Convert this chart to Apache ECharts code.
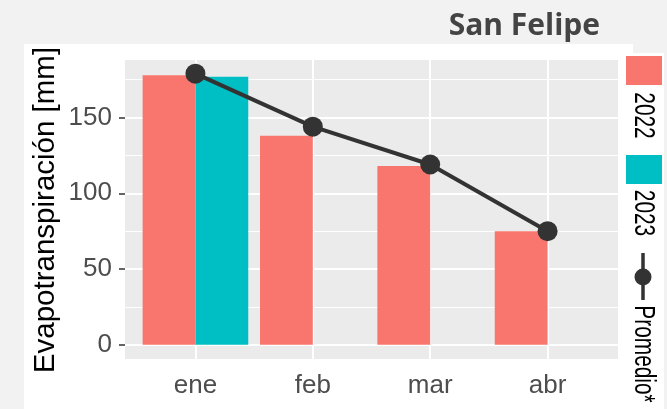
<!DOCTYPE html>
<html>
<head>
<meta charset="utf-8">
<script src="https://cdn.jsdelivr.net/npm/echarts@6/dist/echarts.min.js"></script>
<style>
html,body{margin:0;padding:0;background:#F2F2F2;}
#c{width:667px;height:409px;}
</style>
</head>
<body>
<div id="c"></div>
<script>
const categories = ['ene', 'feb', 'mar', 'abr'];
const values2022 = [178, 138, 118, 75];
const values2023 = [177, null, null, null];
const promedio = [179, 144, 119, 75];
const yTicks = [0, 50, 100, 150];
const yMinorTicks = [25, 75, 125, 175];
const seriesNames = ['2022', '2023', 'Promedio*'];
const titleText = 'San Felipe';
const yTitle = 'Evapotranspiración [mm]';

const c2022 = '#F8766D', c2023 = '#00BFC4', cLine = '#333333';
const sans = '"Liberation Sans", Arial, sans-serif';

// category slots on a continuous axis (ggplot style: 1..n, expanded 0.6 each side)
const xPos = categories.map((_, i) => i + 1);
const pairs = vals => vals.map((v, i) => [xPos[i], v]);

const chart = echarts.init(document.getElementById('c'), null, {renderer: 'canvas'});

const gridLines = [];
yTicks.forEach(v => gridLines.push({yAxis: v, lineStyle: {color: '#FFFFFF', width: 2, type: 'solid'}}));
yMinorTicks.forEach(v => gridLines.push({yAxis: v, lineStyle: {color: '#FFFFFF', width: 1, type: 'solid'}}));
xPos.forEach(v => gridLines.push({xAxis: v, lineStyle: {color: '#FFFFFF', width: 2, type: 'solid'}}));

const option = {
  animation: false,
  backgroundColor: '#F2F2F2',
  grid: {left: 125, right: 49, top: 60, bottom: 50, show: true, backgroundColor: '#EBEBEB', borderWidth: 0, containLabel: false},
  xAxis: {
    type: 'value', min: 0.4, max: 4.6,
    axisLine: {show: false},
    axisTick: {show: true, length: 7, customValues: xPos, lineStyle: {color: '#333333', width: 1.5}},
    axisLabel: {color: '#4D4D4D', fontFamily: sans, fontSize: 26, margin: 14, customValues: xPos,
      formatter: v => categories[Math.round(v) - 1] || ''},
    splitLine: {show: false}
  },
  yAxis: {
    type: 'value', min: -9.4, max: 188,
    axisLine: {show: false},
    axisTick: {show: true, length: 6, customValues: yTicks, lineStyle: {color: '#333333', width: 1.5}},
    axisLabel: {color: '#4D4D4D', fontFamily: sans, fontSize: 26, margin: 13, customValues: yTicks},
    splitLine: {show: false},
    minorSplitLine: {show: false}
  },
  series: [
    {
      type: 'line', name: '_grid', data: [], silent: true, z: 1,
      showSymbol: false, lineStyle: {opacity: 0},
      markLine: {z: 1, silent: true, symbol: ['none', 'none'], label: {show: false}, emphasis: {disabled: true}, animation: false, data: gridLines}
    },
    {type: 'bar', name: seriesNames[0], data: pairs(values2022), itemStyle: {color: c2022}, barGap: '0%', barCategoryGap: '10%', z: 2},
    {type: 'bar', name: seriesNames[1], data: pairs(values2023), itemStyle: {color: c2023}, barGap: '0%', barCategoryGap: '10%', z: 2},
    {type: 'line', name: seriesNames[2], data: pairs(promedio), z: 4, symbol: 'circle', symbolSize: 20,
      lineStyle: {color: cLine, width: 4}, itemStyle: {color: cLine}}
  ],
  graphic: [
    {type: 'rect', shape: {x: 24, y: 44, width: 609, height: 380}, style: {fill: '#FFFFFF'}, z: -10, silent: true},
    {type: 'rect', shape: {x: 621, y: 53, width: 43, height: 370}, style: {fill: '#FFFFFF'}, z: -10, silent: true},
    {type: 'text', x: 600, y: 26, style: {text: titleText, font: 'bold 30px "Open Sans", sans-serif', fill: '#444444', align: 'right', verticalAlign: 'middle'}, silent: true},
    {type: 'text', x: 46, y: 210, rotation: Math.PI / 2, style: {text: yTitle, font: '29.5px ' + sans, fill: '#000000', align: 'center', verticalAlign: 'middle'}, silent: true},
    {type: 'rect', shape: {x: 626, y: 56, width: 36, height: 29}, style: {fill: c2022}, silent: true},
    {type: 'text', x: 643, y: 115.5, rotation: -Math.PI / 2, scaleX: 0.72, style: {text: seriesNames[0], font: '29px ' + sans, fill: '#000000', align: 'center', verticalAlign: 'middle'}, silent: true},
    {type: 'rect', shape: {x: 626, y: 155, width: 36, height: 29}, style: {fill: c2023}, silent: true},
    {type: 'text', x: 643, y: 213, rotation: -Math.PI / 2, scaleX: 0.72, style: {text: seriesNames[1], font: '29px ' + sans, fill: '#000000', align: 'center', verticalAlign: 'middle'}, silent: true},
    {type: 'line', shape: {x1: 643, y1: 253, x2: 643, y2: 300}, style: {stroke: cLine, lineWidth: 3.5}, silent: true},
    {type: 'circle', shape: {cx: 643, cy: 277, r: 8.5}, style: {fill: cLine}, silent: true},
    {type: 'text', x: 643, y: 354, rotation: -Math.PI / 2, scaleX: 0.72, style: {text: seriesNames[2], font: '29px ' + sans, fill: '#000000', align: 'center', verticalAlign: 'middle'}, silent: true}
  ]
};
chart.setOption(option);
</script>
</body>
</html>
